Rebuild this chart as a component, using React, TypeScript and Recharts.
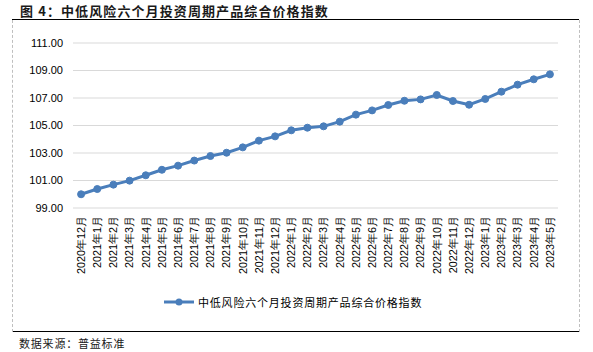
import { CartesianGrid, Line, LineChart, XAxis, YAxis } from "recharts";

const months = [
  "2020年12月",
  "2021年1月", "2021年2月", "2021年3月", "2021年4月", "2021年5月", "2021年6月",
  "2021年7月", "2021年8月", "2021年9月", "2021年10月", "2021年11月", "2021年12月",
  "2022年1月", "2022年2月", "2022年3月", "2022年4月", "2022年5月", "2022年6月",
  "2022年7月", "2022年8月", "2022年9月", "2022年10月", "2022年11月", "2022年12月",
  "2023年1月", "2023年2月", "2023年3月", "2023年4月", "2023年5月",
];

const indexValues = [
  100.0, 100.38, 100.7, 100.99, 101.38, 101.78, 102.08, 102.45, 102.78, 103.02,
  103.41, 103.9, 104.21, 104.65, 104.84, 104.94, 105.28, 105.79, 106.1, 106.49,
  106.8, 106.9, 107.22, 106.78, 106.51, 106.93, 107.46, 107.97, 108.36, 108.72,
];

const yTicks = [99, 101, 103, 105, 107, 109, 111];
const edgeTicks = months.map((_, i) => i).concat(months.length);

const seriesName = "中低风险六个月投资周期产品综合价格指数";
const title = "图 4：中低风险六个月投资周期产品综合价格指数";
const source = "数据来源：普益标准";

const BLUE = "#4a7ebb";
const GRID = "#d9d9d9";
const CJK = "'Noto Sans CJK SC', sans-serif";

const chartData = months.map((month, i) => ({ month, value: indexValues[i] }));

// rotated month label, reads bottom-to-top like the Excel export
const MonthTick = (props: any) => {
  const { x, y, payload } = props;
  return (
    <text
      x={x}
      y={y}
      dy="0.36em"
      textAnchor="end"
      transform={`rotate(-90 ${x} ${y})`}
      fill="#000"
      fontSize={10.8}
      fontFamily="'Liberation Sans', Arial, sans-serif"
    >
      {payload.value}
    </text>
  );
};

export default function App() {
  return (
    <div
      style={{
        position: "absolute",
        left: 0,
        top: 0,
        width: 593,
        height: 352,
        background: "#fff",
        fontFamily: CJK,
        overflow: "hidden",
      }}
    >
      <div
        style={{
          position: "absolute",
          left: 20,
          top: 1,
          fontSize: 13,
          fontWeight: 700,
          color: "#1a1a1a",
          letterSpacing: 1.1,
          whiteSpace: "nowrap",
        }}
      >
        {title}
      </div>

      {/* frame: solid rules top and bottom, dashed sides */}
      <div style={{ position: "absolute", left: 12, top: 19, width: 567, height: 0, borderTop: "1.5px solid #000" }} />
      <div style={{ position: "absolute", left: 12, top: 331, width: 567, height: 0, borderTop: "1.5px solid #000" }} />
      <div style={{ position: "absolute", left: 12, top: 20, width: 0, height: 312, borderLeft: "1px dashed #bfbfbf" }} />
      <div style={{ position: "absolute", left: 579, top: 20, width: 0, height: 312, borderLeft: "1px dashed #bfbfbf" }} />

      <div style={{ position: "absolute", left: 0, top: 0 }}>
        <LineChart width={593} height={352} data={chartData} margin={{ top: 43, right: 35, bottom: 74, left: 13 }}>
          <CartesianGrid horizontal vertical={false} stroke={GRID} />
          <XAxis
            xAxisId="edge"
            type="number"
            domain={[0, months.length]}
            ticks={edgeTicks}
            allowDataOverflow
            height={0}
            tick={false}
            tickSize={5}
            axisLine={{ stroke: GRID }}
            tickLine={{ stroke: GRID }}
          />
          <XAxis
            xAxisId="cat"
            dataKey="month"
            scale="band"
            interval={0}
            height={70}
            axisLine={false}
            tickLine={false}
            tickSize={6}
            tickMargin={2}
            tick={<MonthTick />}
          />
          <YAxis
            domain={[99, 111]}
            ticks={yTicks}
            width={60}
            axisLine={false}
            tickLine={false}
            tickMargin={4}
            tickFormatter={(v: number) => v.toFixed(2)}
            tick={{ fill: "#000", fontSize: 11, fontFamily: "'Liberation Sans', Arial, sans-serif" }}
          />
          <Line
            xAxisId="cat"
            dataKey="value"
            stroke={BLUE}
            strokeWidth={3}
            dot={{ r: 3.5, fill: BLUE, stroke: BLUE, strokeWidth: 1 }}
            activeDot={false}
            isAnimationActive={false}
          />
        </LineChart>
      </div>

      {/* legend */}
      <div style={{ position: "absolute", left: 164, top: 294, display: "flex", alignItems: "center" }}>
        <svg width={30} height={16}>
          <line x1={0} y1={8} x2={30} y2={8} stroke={BLUE} strokeWidth={3} />
          <circle cx={15} cy={8} r={3.5} fill={BLUE} />
        </svg>
        <span style={{ marginLeft: 4, fontSize: 11, letterSpacing: 0.8, color: "#000", whiteSpace: "nowrap" }}>
          {seriesName}
        </span>
      </div>

      <div
        style={{
          position: "absolute",
          left: 19,
          top: 335,
          fontSize: 11,
          letterSpacing: 0.8,
          color: "#1a1a1a",
          whiteSpace: "nowrap",
        }}
      >
        {source}
      </div>
    </div>
  );
}
